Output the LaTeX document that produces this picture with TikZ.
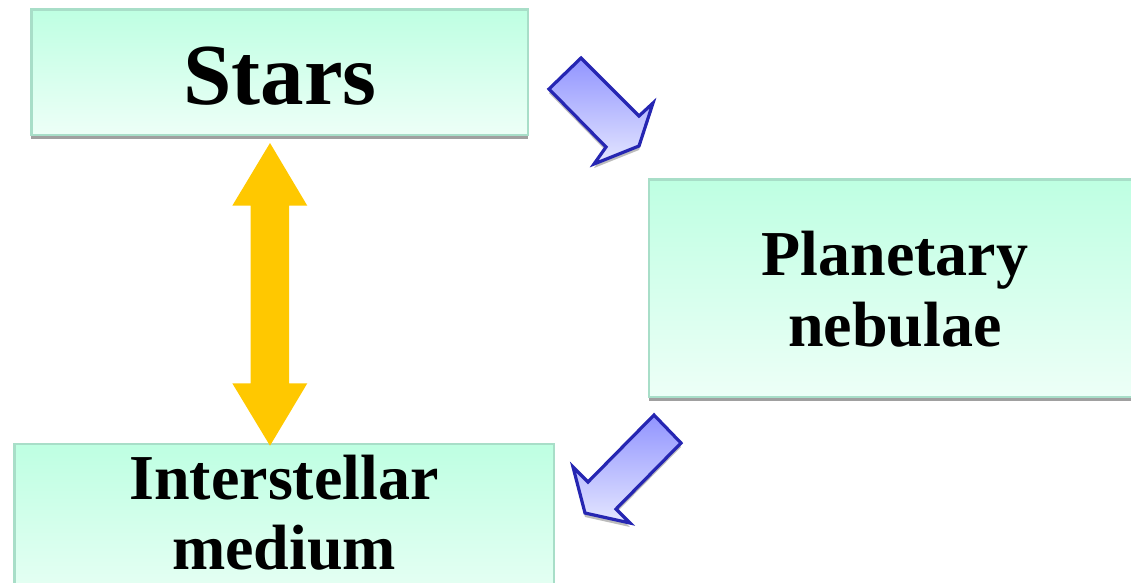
\documentclass[tikz,border=0pt]{standalone}
\usepackage{fontspec}
\setmainfont{Liberation Serif}
\usetikzlibrary{shadows,calc}
\definecolor{boxtop}{RGB}{190,255,226}
\definecolor{boxbot}{RGB}{237,255,247}
\definecolor{boxline}{RGB}{168,222,200}
\definecolor{shadowgray}{RGB}{160,160,160}
\definecolor{bluetop}{RGB}{145,148,255}
\definecolor{bluebot}{RGB}{228,230,255}
\definecolor{blueline}{RGB}{38,38,178}
\definecolor{gold}{RGB}{255,200,0}
\tikzset{
  box/.style={rectangle, draw=boxline, line width=2.5pt, top color=boxtop, bottom color=boxbot,
    inner sep=0pt, drop shadow={shadow xshift=0pt, shadow yshift=-4.5pt, fill=shadowgray, opacity=1}},
  bigtext/.style={font=\fontsize{87}{87}\selectfont\bfseries, anchor=base, inner sep=0pt},
  midtext/.style={font=\fontsize{64}{64}\selectfont\bfseries, anchor=base, inner sep=0pt},
  bluearrow/.style={top color=bluetop, bottom color=bluebot, draw=blueline, line width=3.2pt, line join=miter},
  arrowshadow/.style={fill=shadowgray, opacity=0.7},
  goldarrow/.style={fill=gold},
}
\begin{document}
\begin{tikzpicture}[x=1pt,y=-1pt]
\useasboundingbox (0,0) rectangle (1131,582);
\clip (0,0) rectangle (1131,582);
% boxes
\node[box, minimum width=496.5pt, minimum height=125.5pt] (stars) at (279.5,72) {};
\node[box, minimum width=491pt, minimum height=217.5pt] (pn) at (894.6,288) {};
\node[box, minimum width=539.5pt, minimum height=176pt] (ism) at (284,532) {};
% labels
\node[bigtext] (starsT) at (280,104) {Stars};
\node[midtext] (pnT1) at (895,275) {Planetary};
\node[midtext] (pnT2) at (895,346) {nebulae};
\node[midtext] (ismT1) at (284,499) {Interstellar};
\node[midtext] (ismT2) at (284,569) {medium};
% blue arrow: Stars -> Planetary nebulae
\fill[arrowshadow, shift={(0,4)}] (581,58) -- (639,116) -- (653,103) -- (639,146) -- (594,164) -- (606,147) -- (549,89) -- cycle;
\path[bluearrow] (581,58) -- (639,116) -- (653,103) -- (639,146) -- (594,164) -- (606,147) -- (549,89) -- cycle;
% blue arrow: Planetary nebulae -> Interstellar medium
\fill[arrowshadow, shift={(0,4)}] (654,415) -- (681,443) -- (616,509) -- (630,523) -- (585,513) -- (573,467) -- (588,482) -- cycle;
\path[bluearrow] (654,415) -- (681,443) -- (616,509) -- (630,523) -- (585,513) -- (573,467) -- (588,482) -- cycle;
% yellow double arrow between Stars and Interstellar medium
\coordinate (ytop) at (270,143);
\coordinate (ybot) at (270,445.7);
\fill[goldarrow] (ytop) -- ++(37.3,62.7) -- ++(-18.3,0) -- ++(0,177.6) -- ++(18.3,0) -- (ybot)
  -- ++(-37.7,-62.4) -- ++(18.4,0) -- ++(0,-177.6) -- ++(-18.4,0) -- cycle;
\end{tikzpicture}
\end{document}
